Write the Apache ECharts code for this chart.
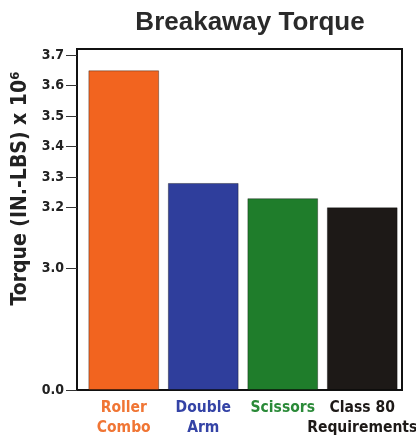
<!DOCTYPE html>
<html><head><meta charset="utf-8">
<script src="https://cdn.jsdelivr.net/npm/echarts@6/dist/echarts.min.js"></script>
<style>html,body{margin:0;padding:0;background:#fff}#c{width:416px;height:435px}</style>
</head><body><div id="c"></div>
<script>
const categories = ['Roller\nCombo', 'Double\nArm', 'Scissors', 'Class 80\nRequirements'];
const values = [3.65, 3.28, 3.23, 3.20];
const barColors = ['#f2641f', '#2f3e9c', '#1f7d2b', '#1d1917'];
const labelColors = ['#f07534', '#3443a6', '#2a8a38', '#1d1917'];
const yTicks = [0, 3.0, 3.2, 3.3, 3.4, 3.5, 3.6, 3.7];

const chart = echarts.init(document.getElementById('c'), null, {renderer: 'canvas'});
const cond = "'Liberation Sans Narrow', 'DejaVu Sans Condensed', 'Liberation Sans', sans-serif";
const yBase = {
  type: 'value', min: 0, max: 3.72,
  breaks: [{start: 0, end: 3.0, gap: 0.4}],
  breakArea: {show: false},
  splitLine: {show: false}
};
chart.setOption({
  backgroundColor: '#ffffff',
  animation: false,
  title: {
    text: 'Breakaway Torque', left: 245, textAlign: 'center', top: 5,
    textStyle: {fontFamily: "'Liberation Sans', Arial, sans-serif", fontWeight: 'bold', fontSize: 26, color: '#2a2a2a'}
  },
  grid: [
    {left: 77, right: 14, top: 49, bottom: 45, show: true, borderColor: '#111', borderWidth: 2, outerBoundsMode: 'none'},
    {left: 84, right: 14, top: 49, bottom: 45, outerBoundsMode: 'none'}
  ],
  xAxis: [
    {type: 'category', gridIndex: 0, data: categories, show: true,
     axisLine: {show: true, lineStyle: {color: '#111', width: 2}}, axisTick: {show: false}, axisLabel: {show: false}},
    {type: 'category', gridIndex: 1, data: categories,
     axisLine: {show: false}, axisTick: {show: false},
     axisLabel: {
       interval: 0, margin: 8, fontFamily: cond, fontWeight: 'bold', fontSize: 15.5, lineHeight: 20,
       color: (v, i) => labelColors[i]
     }}
  ],
  yAxis: [
    Object.assign({}, yBase, {
      gridIndex: 0,
      name: 'Torque (IN.-LBS) x 10⁶', nameLocation: 'middle', nameRotate: 90, nameGap: 46,
      nameTextStyle: {fontFamily: cond, fontWeight: 'bold', fontSize: 21, color: '#222', padding: [0, 0, 0, 62]},
      axisLine: {show: true, lineStyle: {color: '#111', width: 2}},
      axisTick: {show: true, length: 11, lineStyle: {color: '#333', width: 1}, customValues: yTicks},
      axisLabel: {margin: 13, fontFamily: cond, fontWeight: 'bold', fontSize: 14, color: '#222', verticalAlign: 'middle',
        customValues: yTicks, formatter: v => v.toFixed(1)}
    }),
    Object.assign({}, yBase, {gridIndex: 1, show: false})
  ],
  series: [{
    type: 'bar', xAxisIndex: 1, yAxisIndex: 1, barCategoryGap: '11%',
    data: values.map((v, i) => ({value: v, itemStyle: {color: barColors[i]}})),
    itemStyle: {borderColor: 'rgba(0,0,0,0.35)', borderWidth: 1}
  }]
});
</script></body></html>
